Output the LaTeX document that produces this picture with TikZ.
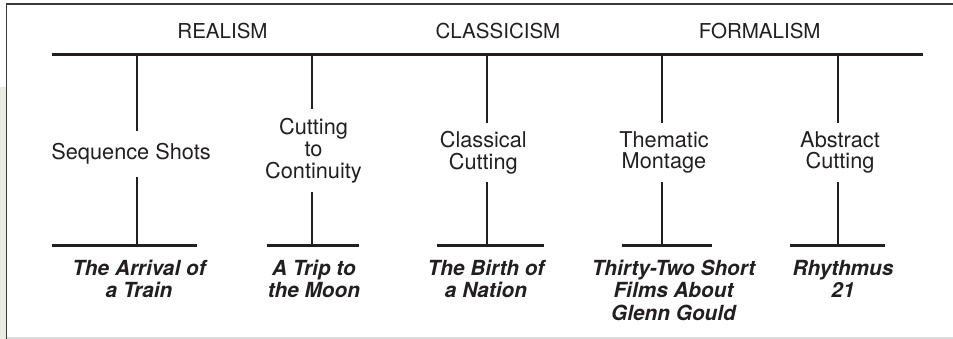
\documentclass[tikz,border=0pt]{standalone}
\usepackage{fontspec}
\setmainfont{TeX Gyre Heros}
\definecolor{ink}{HTML}{231F20}
\definecolor{framegray}{HTML}{3A3A3A}
\definecolor{beige}{HTML}{EBEBE3}
\definecolor{softgray}{HTML}{DCDCDC}
\tikzset{
  bar/.style={line width=2pt, draw=ink},
  stem/.style={line width=1.6pt, draw=ink},
  school/.style={font=\fontsize{15.4}{18}\selectfont, inner sep=0pt, text=ink},
  method/.style={font=\fontsize{16.3}{16.3}\selectfont, align=center, inner xsep=0pt, text=ink},
  film/.style={font=\fontsize{15.6}{16.7}\selectfont\bfseries\itshape, align=center, inner sep=0pt, text=ink, anchor=north},
}
\begin{document}
\begin{tikzpicture}[x=0.75pt, y=-0.75pt]
\useasboundingbox (0,0) rectangle (953,339);
% frame
\fill[beige] (0,87) rectangle (6,339);
\draw[softgray, line width=1pt] (7,338) -- (953,338);
\draw[framegray, line width=1.4pt] (6.5,339) -- (6.5,4.3) -- (953,4.3);

% school labels
\node[school] (realism) at (222.5,30.8) {REALISM};
\node[school] (classicism) at (498,30.8) {CLASSICISM};
\node[school] (formalism) at (759.7,30.8) {FORMALISM};

% main bar
\coordinate (barL) at (51.7,54.7);
\coordinate (barR) at (923,54.7);
\draw[bar] (barL) -- (barR);

\coordinate (s1) at (136.7,54.7);
\coordinate (s2) at (312,54.7);
\coordinate (s3) at (487.3,54.7);
\coordinate (s4) at (662.3,54.7);
\coordinate (s5) at (837.7,54.7);

% methods
\node[method, inner ysep=9.2pt] (m1) at (131,154) {Sequence Shots};
\node[method, inner ysep=6.9pt] (m2) at (313.5,150.6) {Cutting\\to\\Continuity};
\node[method, inner ysep=6.1pt] (m3) at (483.3,152.5) {Classical\\Cutting};
\node[method, inner ysep=6.1pt] (m4) at (664,152.5) {Thematic\\Montage};
\node[method, inner ysep=6.1pt] (m5) at (840,152.5) {Abstract\\Cutting};

% bottom bars
\coordinate (f1) at (136.7,245.3);
\coordinate (f2) at (312,245.3);
\coordinate (f3) at (487.3,245.3);
\coordinate (f4) at (662.3,245.3);
\coordinate (f5) at (837.7,245.3);
\coordinate (f1L) at (51.7,245.3);  \coordinate (f1R) at (196.7,245.3);
\coordinate (f2L) at (266.7,245.3); \coordinate (f2R) at (359.3,245.3);
\coordinate (f3L) at (436.7,245.3); \coordinate (f3R) at (544,245.3);
\coordinate (f4L) at (621.7,245.3); \coordinate (f4R) at (711.7,245.3);
\coordinate (f5L) at (790,245.3);   \coordinate (f5R) at (885,245.3);
\foreach \i in {1,...,5}{
  \draw[stem] (s\i) -- (s\i |- m\i.north);
  \draw[stem] (f\i |- m\i.south) -- (f\i);
  \draw[bar] (f\i L) -- (f\i R);
}

% films
\node[film] (n1) at (139,260) {The Arrival of\\a Train};
\node[film] (n2) at (314,260) {A Trip to\\the Moon};
\node[film] (n3) at (486,260) {The Birth of\\a Nation};
\node[film] (n4) at (673.5,260) {Thirty-Two Short\\Films About\\Glenn Gould};
\node[film] (n5) at (843,260) {Rhythmus\\21};
\end{tikzpicture}
\end{document}
